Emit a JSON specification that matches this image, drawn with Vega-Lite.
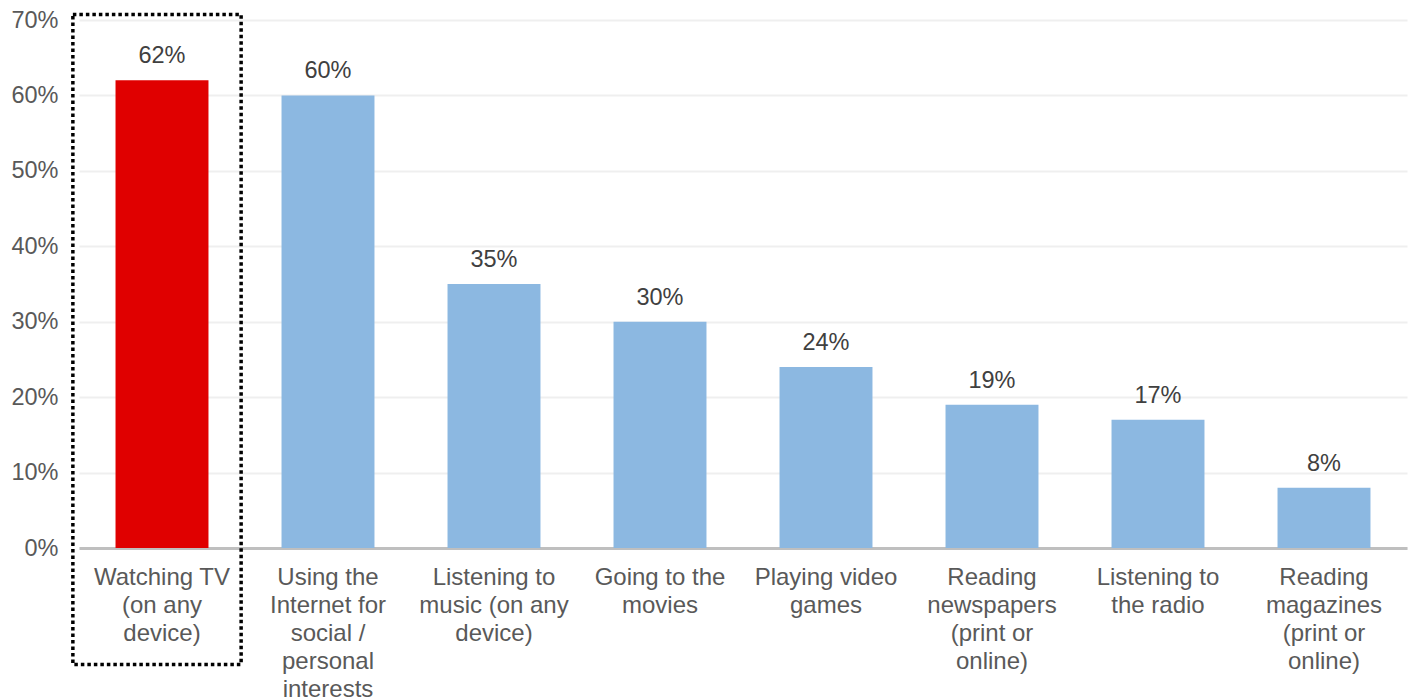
{
  "$schema": "https://vega.github.io/schema/vega-lite/v6.json",
  "width": 1328,
  "height": 528,
  "autosize": {"type": "none"},
  "padding": {"left": 79, "top": 20, "right": 3, "bottom": 152},
  "background": "white",
  "config": {
    "view": {"stroke": null},
    "font": "Liberation Sans"
  },
  "datasets": {
    "bars": [
      {"activity": "Watching TV\n(on any\ndevice)", "share": 0.62, "highlight": "yes"},
      {"activity": "Using the\nInternet for\nsocial /\npersonal\ninterests", "share": 0.60, "highlight": "no"},
      {"activity": "Listening to\nmusic (on any\ndevice)", "share": 0.35, "highlight": "no"},
      {"activity": "Going to the\nmovies", "share": 0.30, "highlight": "no"},
      {"activity": "Playing video\ngames", "share": 0.24, "highlight": "no"},
      {"activity": "Reading\nnewspapers\n(print or\nonline)", "share": 0.19, "highlight": "no"},
      {"activity": "Listening to\nthe radio", "share": 0.17, "highlight": "no"},
      {"activity": "Reading\nmagazines\n(print or\nonline)", "share": 0.08, "highlight": "no"}
    ],
    "box": [
      {"activity": "Watching TV\n(on any\ndevice)", "top": 0.7073, "bottom": -0.1544}
    ]
  },
  "layer": [
    {
      "data": {"name": "bars"},
      "mark": {"type": "bar"},
      "encoding": {
        "x": {
          "field": "activity", "type": "nominal", "sort": null,
          "scale": {"paddingInner": 0.44, "paddingOuter": 0.22},
          "axis": {
            "title": null, "labelAngle": 0, "ticks": false,
            "labelExpr": "split(datum.label, '\\n')",
            "labelFontSize": 24, "labelColor": "#595959", "labelLineHeight": 28,
            "labelBaseline": "top", "labelPadding": 17,
            "domainColor": "#bfbfbf", "domainWidth": 3, "labelLimit": 300
          }
        },
        "y": {
          "field": "share", "type": "quantitative",
          "scale": {"domain": [0, 0.7], "nice": false},
          "axis": {
            "title": null, "format": ".0%", "values": [0, 0.1, 0.2, 0.3, 0.4, 0.5, 0.6, 0.7],
            "ticks": false, "domain": false, "labelFontSize": 23.5, "labelColor": "#595959",
            "labelPadding": 21, "gridColor": "#efefef", "gridWidth": 2
          }
        },
        "color": {
          "field": "highlight", "type": "nominal",
          "scale": {"domain": ["yes", "no"], "range": ["#e00000", "#8cb8e1"]},
          "legend": null
        }
      }
    },
    {
      "data": {"name": "bars"},
      "mark": {"type": "text", "baseline": "alphabetic", "dy": -17, "fontSize": 23.5, "color": "#404040"},
      "encoding": {
        "x": {"field": "activity", "type": "nominal", "sort": null},
        "y": {"field": "share", "type": "quantitative"},
        "text": {"field": "share", "type": "quantitative", "format": ".0%"}
      }
    },
    {
      "data": {"name": "box"},
      "mark": {"type": "bar", "filled": false, "stroke": "black", "strokeWidth": 3.5, "strokeDash": [3.5, 3], "width": {"band": 1.81}, "xOffset": -5},
      "encoding": {
        "x": {"field": "activity", "type": "nominal", "sort": null},
        "y": {"field": "top", "type": "quantitative"},
        "y2": {"field": "bottom"}
      }
    }
  ]
}
